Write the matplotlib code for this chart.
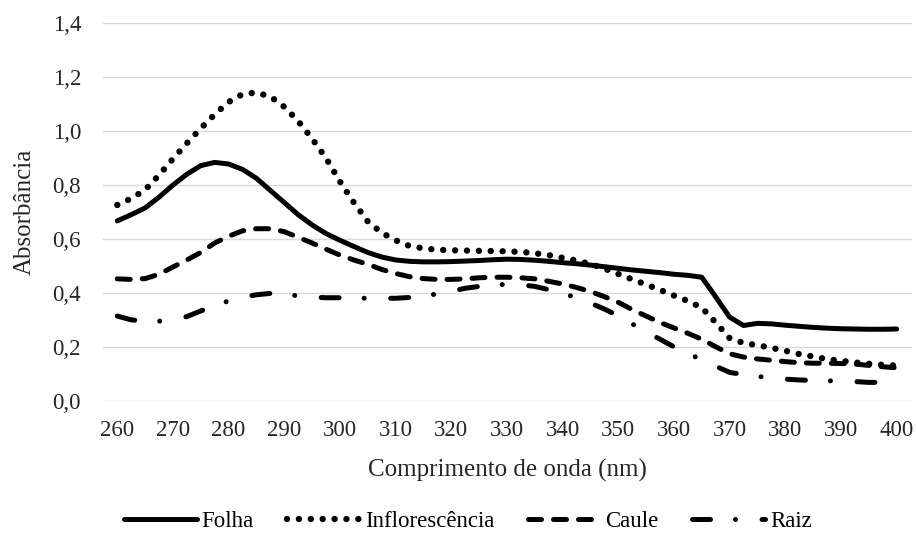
import numpy as np
import matplotlib.pyplot as plt
from matplotlib.ticker import FuncFormatter

plt.rcParams['font.family'] = ['Liberation Serif', 'DejaVu Serif']

# comprimento de onda (nm), passo de 2,5 nm
wl = [260 + 2.5 * i for i in range(57)]

folha = [0.667, 0.690, 0.715, 0.755, 0.800, 0.840, 0.872, 0.884, 0.878, 0.858,
         0.825, 0.780, 0.735, 0.690, 0.652, 0.620, 0.595, 0.572, 0.550, 0.533,
         0.522, 0.517, 0.515, 0.515, 0.516, 0.518, 0.520, 0.523, 0.525, 0.524,
         0.521, 0.517, 0.512, 0.508, 0.503, 0.497, 0.491, 0.485, 0.480, 0.475,
         0.469, 0.465, 0.458, 0.385, 0.310, 0.279, 0.287, 0.285, 0.280, 0.276,
         0.272, 0.269, 0.267, 0.266, 0.265, 0.265, 0.266]

infl = [0.726, 0.750, 0.782, 0.837, 0.897, 0.955, 1.010, 1.062, 1.108, 1.137,
        1.143, 1.128, 1.090, 1.037, 0.972, 0.900, 0.813, 0.735, 0.665, 0.623,
        0.595, 0.574, 0.565, 0.560, 0.558, 0.557, 0.556, 0.555, 0.554, 0.552,
        0.547, 0.540, 0.530, 0.520, 0.507, 0.490, 0.470, 0.450, 0.431, 0.411,
        0.390, 0.370, 0.345, 0.290, 0.232, 0.214, 0.206, 0.196, 0.185, 0.173,
        0.164, 0.154, 0.148, 0.142, 0.137, 0.133, 0.130]

caule = [0.452, 0.450, 0.453, 0.469, 0.496, 0.522, 0.550, 0.585, 0.610, 0.630,
         0.638, 0.638, 0.627, 0.606, 0.585, 0.562, 0.540, 0.522, 0.506, 0.487,
         0.472, 0.460, 0.453, 0.450, 0.450, 0.452, 0.456, 0.458, 0.458, 0.456,
         0.452, 0.443, 0.433, 0.420, 0.405, 0.386, 0.365, 0.338, 0.314, 0.290,
         0.270, 0.250, 0.228, 0.200, 0.174, 0.162, 0.155, 0.150, 0.145, 0.141,
         0.139, 0.139, 0.138, 0.136, 0.131, 0.126, 0.122]

raiz = [0.314, 0.300, 0.295, 0.295, 0.302, 0.312, 0.333, 0.353, 0.370, 0.384,
        0.393, 0.398, 0.395, 0.389, 0.384, 0.382, 0.382, 0.381, 0.380, 0.380,
        0.380, 0.383, 0.389, 0.396, 0.406, 0.417, 0.424, 0.429, 0.432, 0.430,
        0.424, 0.412, 0.398, 0.382, 0.362, 0.340, 0.315, 0.285, 0.255, 0.228,
        0.200, 0.175, 0.152, 0.128, 0.105, 0.097, 0.090, 0.085, 0.080, 0.077,
        0.075, 0.074, 0.073, 0.071, 0.068, 0.068, 0.068]

nomes = ['Folha', 'Inflorescência', 'Caule', 'Raiz']

fig = plt.figure(figsize=(9.17, 5.44), dpi=100)
ax = fig.add_axes([0.1127, 0.2634, 0.8815, 0.6938])

lw = 3.6
ax.plot(wl, folha, color='black', lw=lw, solid_capstyle='round',
        solid_joinstyle='round', label=nomes[0])
ax.plot(wl, infl, color='black', lw=4.6, dashes=(0.01, 1.85),
        dash_capstyle='round', label=nomes[1])
ax.plot(wl, caule, color='black', lw=lw, dashes=(2.6, 2.4),
        dash_capstyle='round', label=nomes[2])
ax.plot(wl, raiz, color='black', lw=lw, dashes=(3.6, 5.0, 0.01, 5.3),
        dash_capstyle='round', label=nomes[3])

ax.set_xlim(257.5, 402.7)
ax.set_ylim(0, 1.4)
ax.set_xticks(range(260, 401, 10))
ax.set_yticks(np.arange(0, 1.41, 0.2))
ax.yaxis.set_major_formatter(FuncFormatter(lambda v, p: f'{v:.1f}'.replace('.', ',')))
ax.tick_params(length=0, labelsize=16.5, colors='#262626')
ax.tick_params(axis='y', pad=16)
ax.tick_params(axis='x', pad=14)

for s in ax.spines.values():
    s.set_visible(False)
ax.grid(axis='y', color='#d9d9d9', lw=1)
ax.set_axisbelow(True)

ax.set_xlabel('Comprimento de onda (nm)', fontsize=18, labelpad=13, color='#262626')
ax.set_ylabel('Absorbância', fontsize=18, labelpad=12, color='#262626')

fig.legend(loc='center', bbox_to_anchor=(0.51, 0.042), ncol=4, frameon=False,
           fontsize=16.5, handlelength=3.2, columnspacing=1.45, handletextpad=0.2)

fig.savefig('out.png', dpi=100)
